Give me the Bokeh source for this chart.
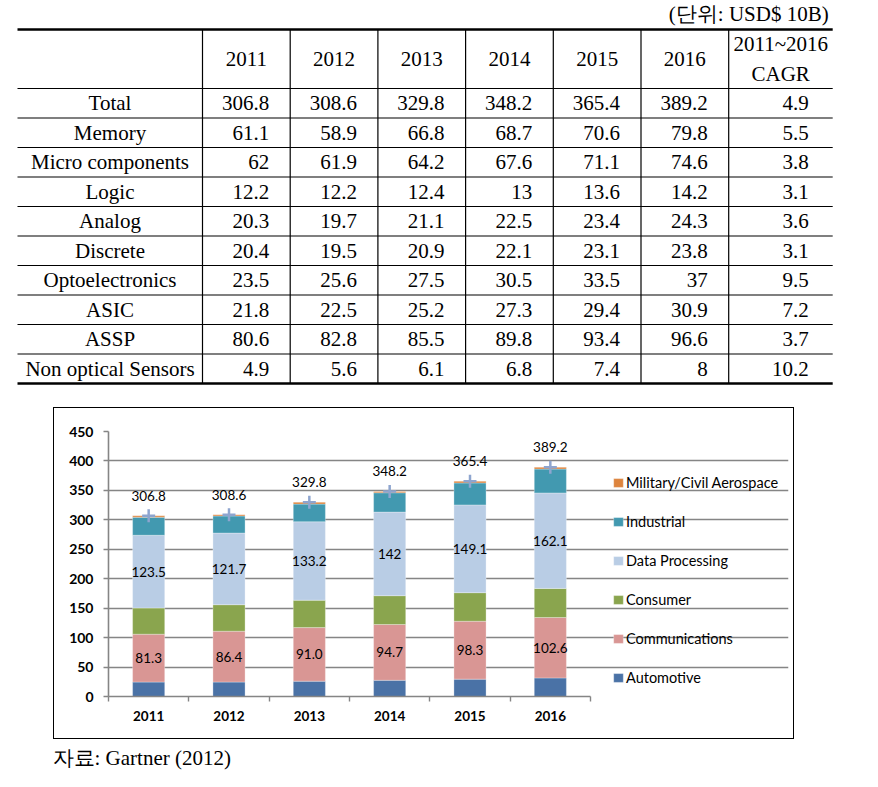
from bokeh.plotting import figure
from bokeh.models import (Range1d, ColumnDataSource, FixedTicker, Legend, LegendItem, Spacer)
from bokeh.layouts import column, row
from bokeh.embed import file_html
from bokeh.resources import INLINE
from bokeh.core.properties import value

# ---------------- data ----------------
years = ["2011", "2012", "2013", "2014", "2015", "2016"]
row_labels = ["Total", "Memory", "Micro components", "Logic", "Analog", "Discrete",
              "Optoelectronics", "ASIC", "ASSP", "Non optical Sensors"]
total = [306.8, 308.6, 329.8, 348.2, 365.4, 389.2]
memory = [61.1, 58.9, 66.8, 68.7, 70.6, 79.8]
micro = [62, 61.9, 64.2, 67.6, 71.1, 74.6]
logic = [12.2, 12.2, 12.4, 13, 13.6, 14.2]
analog = [20.3, 19.7, 21.1, 22.5, 23.4, 24.3]
discrete = [20.4, 19.5, 20.9, 22.1, 23.1, 23.8]
opto = [23.5, 25.6, 27.5, 30.5, 33.5, 37]
asic = [21.8, 22.5, 25.2, 27.3, 29.4, 30.9]
assp = [80.6, 82.8, 85.5, 89.8, 93.4, 96.6]
sensors = [4.9, 5.6, 6.1, 6.8, 7.4, 8]
cagr = [4.9, 5.5, 3.8, 3.1, 3.6, 3.1, 9.5, 7.2, 3.7, 10.2]
cagr_header = "2011~2016\nCAGR"
unit_text = "(단위: USD$ 10B)"
source_text = "자료: Gartner (2012)"

segments = ["Automotive", "Communications", "Consumer", "Data Processing",
            "Industrial", "Military/Civil Aerospace"]
automotive = [24.5, 24.5, 26.0, 27.5, 29.5, 31.5]
communications = [81.3, 86.4, 91.0, 94.7, 98.3, 102.6]
consumer = [44.5, 45.0, 46.5, 49.0, 48.5, 49.5]
data_processing = [123.5, 121.7, 133.2, 142.0, 149.1, 162.1]
industrial = [30.5, 29.0, 30.0, 32.8, 37.3, 40.5]
military = [2.5, 2.0, 3.1, 2.2, 2.7, 3.0]
y_ticks = [0, 50, 100, 150, 200, 250, 300, 350, 400, 450]

colors = ["#4A72A6", "#D99694", "#8AA54E", "#B9CDE5", "#4299B0", "#DD843D"]

# ---------------- table (canvas units = page pixels) ----------------
TW, TH = 870, 407
t = figure(width=TW, height=TH, x_range=Range1d(0, TW), y_range=Range1d(TH, 0),
           output_backend="svg", toolbar_location=None, min_border=0,
           x_axis_location=None, y_axis_location=None)
t.grid.visible = False
t.outline_line_color = None

left0 = 17
first_w = 185
year_w = 87.7
cagr_w = 104
col_edges = [left0, left0 + first_w] + [left0 + first_w + year_w * (k + 1) for k in range(len(years))]
col_edges.append(col_edges[-1] + cagr_w)
top0 = 29
head_h = 59
row_h = 29.5
row_edges = [top0, top0 + head_h] + [top0 + head_h + row_h * (k + 1) for k in range(len(row_labels))]

hw = [2.5 if (k == 0 or k == len(row_edges) - 1) else 1.2 for k in range(len(row_edges))]
t.segment(x0=[col_edges[0]] * len(row_edges), x1=[col_edges[-1]] * len(row_edges),
          y0=row_edges, y1=row_edges, line_width=hw, line_color="black")
inner = col_edges[1:-1]
t.segment(x0=inner, x1=inner, y0=[row_edges[0]] * len(inner), y1=[row_edges[-1]] * len(inner),
          line_width=1.2, line_color="black")

TF = value("Liberation Serif")
head_y = (row_edges[0] + row_edges[1]) / 2
year_cx = [(col_edges[k + 1] + col_edges[k + 2]) / 2 for k in range(len(years))]
t.text(x=year_cx, y=[head_y] * len(years), text=years, text_align="center",
       text_baseline="middle", text_font=TF, text_font_size="21px", text_color="black")
t.text(x=[(col_edges[-2] + col_edges[-1]) / 2], y=[head_y], text=[cagr_header],
       text_align="center", text_baseline="middle", text_font=TF, text_font_size="21px",
       text_color="black", text_line_height=1.25)

row_mid = [(row_edges[k + 1] + row_edges[k + 2]) / 2 for k in range(len(row_labels))]
t.text(x=[(col_edges[0] + col_edges[1]) / 2] * len(row_labels), y=row_mid, text=row_labels,
       text_align="center", text_baseline="middle", text_font=TF, text_font_size="21px",
       text_color="black")

table_rows = [total, memory, micro, logic, analog, discrete, opto, asic, assp, sensors]
xs, ys, txt = [], [], []
for i, vals in enumerate(table_rows):
    for j, v in enumerate(vals):
        xs.append(col_edges[j + 2] - 21)
        ys.append(row_mid[i])
        txt.append(f"{v:g}")
    xs.append(col_edges[-1] - 24)
    ys.append(row_mid[i])
    txt.append(f"{cagr[i]:g}")
t.text(x=xs, y=ys, text=txt, text_align="right", text_baseline="middle", text_font=TF,
       text_font_size="21px", text_color="black")
t.text(x=[col_edges[-1] - 4], y=[13], text=[unit_text], text_align="right", text_baseline="middle",
       text_font=TF, text_font_size="21px", text_color="black")

# ---------------- chart ----------------
CW, CH = 739, 330
ML, MR, MT, MB = 54, 5, 23, 42
bars_px = 482.0                     # pixel width occupied by the six categories
frame_w = CW - ML - MR
x_end = len(years) * frame_w / bars_px

x_pos = [k + 0.5 for k in range(len(years))]
comm_mid = [a + c / 2 for a, c in zip(automotive, communications)]
dp_mid = [a + c + s + d / 2 for a, c, s, d in zip(automotive, communications, consumer, data_processing)]
src = ColumnDataSource(dict(
    x=x_pos, Automotive=automotive, Communications=communications, Consumer=consumer,
    **{"Data Processing": data_processing, "Industrial": industrial,
       "Military/Civil Aerospace": military},
    total=total, total_lbl=[f"{v:.1f}" for v in total],
    comm_mid=comm_mid, comm_lbl=[f"{v:.1f}" for v in communications],
    dp_mid=dp_mid, dp_lbl=[f"{v:g}" for v in data_processing],
))

c = figure(width=CW, height=CH, x_range=Range1d(0, x_end), y_range=Range1d(0, 450),
           output_backend="svg", toolbar_location=None,
           min_border_left=ML, min_border_right=MR, min_border_top=MT, min_border_bottom=MB)
c.outline_line_color = None
c.background_fill_color = "white"
c.border_fill_color = "white"
c.xgrid.visible = False
GREY = "#858585"
c.ygrid.grid_line_color = GREY
c.ygrid.grid_line_width = 1.3
c.ygrid.ticker = FixedTicker(ticks=y_ticks)
c.ygrid.bounds = (0, len(years))

c.yaxis.ticker = FixedTicker(ticks=y_ticks)
c.yaxis.axis_line_color = GREY
c.yaxis.axis_line_width = 1.6
c.yaxis.major_tick_line_color = GREY
c.yaxis.major_tick_line_width = 1.3
c.yaxis.major_tick_out = 5
c.yaxis.major_tick_in = 0
c.yaxis.minor_tick_line_color = None
c.yaxis.major_label_text_font = "Lato"
c.yaxis.major_label_text_font_style = "bold"
c.yaxis.major_label_text_font_size = "14px"
c.yaxis.major_label_text_color = "black"
c.yaxis.major_label_standoff = 10

c.xaxis.ticker = FixedTicker(ticks=x_pos, minor_ticks=list(range(len(years) + 1)))
c.xaxis.bounds = (0, len(years))
c.xaxis.major_label_overrides = {xv: yr for xv, yr in zip(x_pos, years)}
c.xaxis.axis_line_color = GREY
c.xaxis.axis_line_width = 1.6
c.xaxis.major_tick_line_color = None
c.xaxis.major_tick_out = 0
c.xaxis.major_tick_in = 0
c.xaxis.minor_tick_line_color = GREY
c.xaxis.minor_tick_line_width = 1.4
c.xaxis.minor_tick_out = 5
c.xaxis.minor_tick_in = 0
c.xaxis.major_label_text_font = "Lato"
c.xaxis.major_label_text_font_style = "bold"
c.xaxis.major_label_text_font_size = "13.5px"
c.xaxis.major_label_text_color = "black"
c.xaxis.major_label_standoff = 9

rends = c.vbar_stack(segments, x="x", width=0.4, color=colors, line_color="white",
                     line_alpha=0.5, line_width=0.6, source=src)

LF = value("Lato")
c.text(x="x", y="comm_mid", text="comm_lbl", source=src, text_align="center",
       text_baseline="middle", text_font=LF, text_font_size="13.5px", text_color="black")
c.text(x="x", y="dp_mid", text="dp_lbl", source=src, text_align="center",
       text_baseline="middle", text_font=LF, text_font_size="13.5px", text_color="black")
c.scatter(x="x", y="total", source=src, marker="cross", size=13, line_width=2.5,
          line_color="#8EA5CF")
c.text(x="x", y="total", text="total_lbl", source=src, text_align="center",
       text_baseline="middle", y_offset=-20, text_font=LF, text_font_size="13.5px",
       text_color="black")

legend = Legend(items=[LegendItem(label=n, renderers=[r]) for n, r in reversed(list(zip(segments, rends)))],
                location=(504, 10), orientation="vertical", glyph_width=12, glyph_height=11,
                label_standoff=2, spacing=21, label_height=18, padding=0, margin=0,
                border_line_color=None, background_fill_alpha=0,
                label_text_font="Lato", label_text_font_size="14.5px", label_text_color="black")
c.add_layout(legend)

chart_box = column(c, styles={"border": "1px solid black"})

# ---------------- caption ----------------
cap = figure(width=870, height=40, x_range=Range1d(0, 870), y_range=Range1d(40, 0),
             output_backend="svg", toolbar_location=None, min_border=0,
             x_axis_location=None, y_axis_location=None)
cap.grid.visible = False
cap.outline_line_color = None
cap.text(x=[52], y=[18], text=[source_text], text_align="left", text_baseline="middle",
         text_font=TF, text_font_size="21px", text_color="black")

layout = column(t, row(Spacer(width=53, height=CH), chart_box), cap)
open("out.html", "w").write(file_html(layout, INLINE))
